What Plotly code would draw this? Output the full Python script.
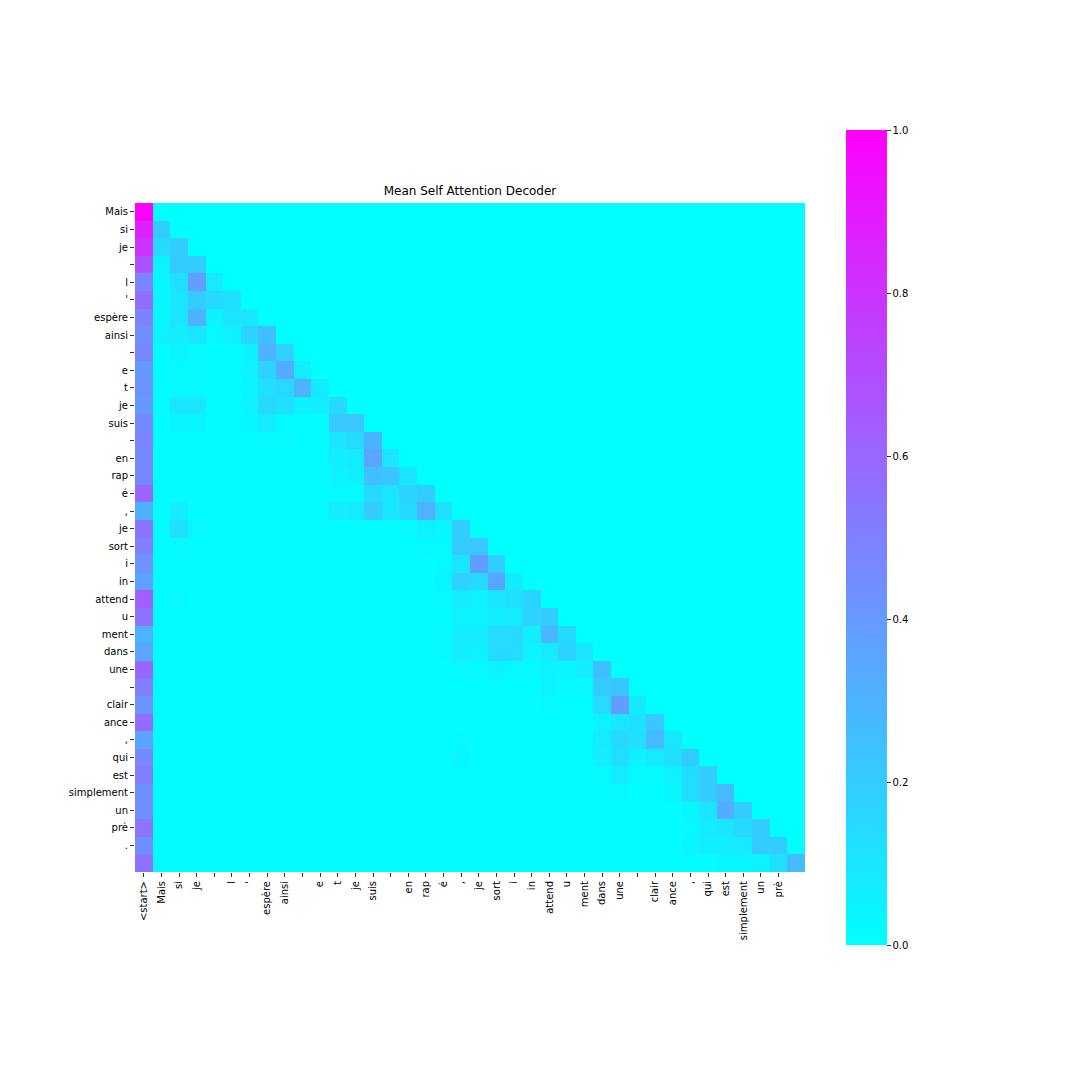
import plotly.graph_objects as go

# Token labels
x_labels = ["<start>", "Mais", "si", "je", "", "l", "'", "espère", "ainsi", "", "e", "t", "je",
            "suis", "", "en", "rap", "é", ",", "je", "sort", "i", "in", "attend", "u", "ment",
            "dans", "une", "", "clair", "ance", ",", "qui", "est", "simplement", "un", "prè"]
y_labels = ["Mais", "si", "je", "", "l", "'", "espère", "ainsi", "", "e", "t", "je",
            "suis", "", "en", "rap", "é", ",", "je", "sort", "i", "in", "attend", "u", "ment",
            "dans", "une", "", "clair", "ance", ",", "qui", "est", "simplement", "un", "prè", "."]

# Lower-triangular mean attention rows (row r has r+1 values; causal mask -> 0 above diagonal)
attn_rows = [
    [1.0],
    [0.87, 0.2],
    [0.8, 0.15, 0.2],
    [0.68, 0.05, 0.2, 0.2],
    [0.48, 0.03, 0.12, 0.38, 0.08],
    [0.57, 0.03, 0.1, 0.2, 0.15, 0.12],
    [0.49, 0.03, 0.1, 0.3, 0.05, 0.1, 0.1],
    [0.45, 0.05, 0.07, 0.1, 0.02, 0.05, 0.17, 0.25],
    [0.47, 0.01, 0.03, 0.02, 0.01, 0.01, 0.05, 0.3, 0.18],
    [0.4, 0.01, 0.02, 0.02, 0.01, 0.01, 0.05, 0.17, 0.33, 0.07],
    [0.42, 0.01, 0.02, 0.02, 0.01, 0.01, 0.04, 0.12, 0.15, 0.3, 0.08],
    [0.4, 0.01, 0.1, 0.1, 0.01, 0.01, 0.05, 0.15, 0.12, 0.05, 0.07, 0.15],
    [0.46, 0.01, 0.03, 0.03, 0.01, 0.01, 0.03, 0.08, 0.01, 0.01, 0.01, 0.22, 0.22],
    [0.48, 0.01, 0.01, 0.01, 0.01, 0.01, 0.01, 0.02, 0.02, 0.01, 0.01, 0.1, 0.15, 0.3],
    [0.46, 0.01, 0.01, 0.01, 0.01, 0.01, 0.01, 0.01, 0.01, 0.01, 0.01, 0.07, 0.08, 0.35, 0.1],
    [0.47, 0.01, 0.01, 0.01, 0.01, 0.01, 0.01, 0.01, 0.01, 0.01, 0.01, 0.05, 0.06, 0.25, 0.23, 0.1],
    [0.6, 0.01, 0.01, 0.01, 0.01, 0.01, 0.01, 0.01, 0.01, 0.01, 0.01, 0.02, 0.02, 0.15, 0.1, 0.17, 0.2],
    [0.3, 0.01, 0.07, 0.01, 0.01, 0.01, 0.01, 0.01, 0.01, 0.01, 0.01, 0.07, 0.08, 0.2, 0.1, 0.15, 0.3, 0.12],
    [0.55, 0.01, 0.12, 0.02, 0.01, 0.01, 0.01, 0.01, 0.01, 0.01, 0.01, 0.01, 0.01, 0.01, 0.01, 0.02, 0.05, 0.03, 0.2],
    [0.5, 0.01, 0.02, 0.01, 0.01, 0.01, 0.01, 0.01, 0.01, 0.01, 0.01, 0.01, 0.01, 0.01, 0.01, 0.01, 0.02, 0.02, 0.2, 0.22],
    [0.42, 0.01, 0.01, 0.01, 0.01, 0.01, 0.01, 0.01, 0.01, 0.01, 0.01, 0.01, 0.01, 0.01, 0.01, 0.01, 0.01, 0.02, 0.1, 0.38, 0.2],
    [0.37, 0.01, 0.01, 0.01, 0.01, 0.01, 0.01, 0.01, 0.01, 0.01, 0.01, 0.01, 0.01, 0.01, 0.01, 0.01, 0.01, 0.03, 0.18, 0.15, 0.35, 0.08],
    [0.63, 0.01, 0.02, 0.01, 0.01, 0.01, 0.01, 0.01, 0.01, 0.01, 0.01, 0.01, 0.01, 0.01, 0.01, 0.01, 0.01, 0.02, 0.07, 0.05, 0.1, 0.12, 0.17],
    [0.55, 0.01, 0.01, 0.01, 0.01, 0.01, 0.01, 0.01, 0.01, 0.01, 0.01, 0.01, 0.01, 0.01, 0.01, 0.01, 0.01, 0.01, 0.05, 0.05, 0.07, 0.08, 0.18, 0.2],
    [0.3, 0.01, 0.01, 0.01, 0.01, 0.01, 0.01, 0.01, 0.01, 0.01, 0.01, 0.01, 0.01, 0.01, 0.01, 0.01, 0.01, 0.02, 0.07, 0.07, 0.15, 0.15, 0.07, 0.28, 0.15],
    [0.35, 0.01, 0.01, 0.01, 0.01, 0.01, 0.01, 0.01, 0.01, 0.01, 0.01, 0.01, 0.01, 0.01, 0.01, 0.01, 0.01, 0.02, 0.07, 0.05, 0.15, 0.15, 0.05, 0.08, 0.17, 0.1],
    [0.6, 0.01, 0.01, 0.01, 0.01, 0.01, 0.01, 0.01, 0.01, 0.01, 0.01, 0.01, 0.01, 0.01, 0.01, 0.01, 0.01, 0.01, 0.02, 0.02, 0.05, 0.02, 0.02, 0.05, 0.03, 0.07, 0.25],
    [0.5, 0.01, 0.01, 0.01, 0.01, 0.01, 0.01, 0.01, 0.01, 0.01, 0.01, 0.01, 0.01, 0.01, 0.01, 0.01, 0.01, 0.01, 0.01, 0.01, 0.02, 0.01, 0.01, 0.05, 0.02, 0.02, 0.2, 0.22],
    [0.42, 0.01, 0.01, 0.01, 0.01, 0.01, 0.01, 0.01, 0.01, 0.01, 0.01, 0.01, 0.01, 0.01, 0.01, 0.01, 0.01, 0.01, 0.01, 0.01, 0.01, 0.01, 0.01, 0.02, 0.01, 0.01, 0.15, 0.38, 0.08],
    [0.58, 0.01, 0.01, 0.01, 0.01, 0.01, 0.01, 0.01, 0.01, 0.01, 0.01, 0.01, 0.01, 0.01, 0.01, 0.01, 0.01, 0.01, 0.01, 0.01, 0.01, 0.01, 0.01, 0.01, 0.01, 0.01, 0.05, 0.1, 0.12, 0.22],
    [0.36, 0.01, 0.01, 0.01, 0.01, 0.01, 0.01, 0.01, 0.01, 0.01, 0.01, 0.01, 0.01, 0.01, 0.01, 0.01, 0.01, 0.01, 0.02, 0.01, 0.01, 0.01, 0.01, 0.01, 0.01, 0.01, 0.08, 0.15, 0.12, 0.27, 0.1],
    [0.46, 0.01, 0.01, 0.01, 0.01, 0.01, 0.01, 0.01, 0.01, 0.01, 0.01, 0.01, 0.01, 0.01, 0.01, 0.01, 0.01, 0.01, 0.03, 0.01, 0.01, 0.01, 0.01, 0.01, 0.01, 0.01, 0.07, 0.13, 0.05, 0.08, 0.12, 0.2],
    [0.51, 0.01, 0.01, 0.01, 0.01, 0.01, 0.01, 0.01, 0.01, 0.01, 0.01, 0.01, 0.01, 0.01, 0.01, 0.01, 0.01, 0.01, 0.01, 0.01, 0.01, 0.01, 0.01, 0.01, 0.01, 0.01, 0.02, 0.08, 0.02, 0.02, 0.05, 0.13, 0.2],
    [0.44, 0.01, 0.01, 0.01, 0.01, 0.01, 0.01, 0.01, 0.01, 0.01, 0.01, 0.01, 0.01, 0.01, 0.01, 0.01, 0.01, 0.01, 0.01, 0.01, 0.01, 0.01, 0.01, 0.01, 0.01, 0.01, 0.01, 0.02, 0.01, 0.01, 0.03, 0.13, 0.2, 0.27],
    [0.44, 0.01, 0.01, 0.01, 0.01, 0.01, 0.01, 0.01, 0.01, 0.01, 0.01, 0.01, 0.01, 0.01, 0.01, 0.01, 0.01, 0.01, 0.01, 0.01, 0.01, 0.01, 0.01, 0.01, 0.01, 0.01, 0.01, 0.01, 0.01, 0.01, 0.01, 0.03, 0.1, 0.32, 0.2],
    [0.54, 0.01, 0.01, 0.01, 0.01, 0.01, 0.01, 0.01, 0.01, 0.01, 0.01, 0.01, 0.01, 0.01, 0.01, 0.01, 0.01, 0.01, 0.01, 0.01, 0.01, 0.01, 0.01, 0.01, 0.01, 0.01, 0.01, 0.01, 0.01, 0.01, 0.01, 0.02, 0.08, 0.1, 0.15, 0.2],
    [0.44, 0.01, 0.01, 0.01, 0.01, 0.01, 0.01, 0.01, 0.01, 0.01, 0.01, 0.01, 0.01, 0.01, 0.01, 0.01, 0.01, 0.01, 0.01, 0.01, 0.01, 0.01, 0.01, 0.01, 0.01, 0.01, 0.01, 0.01, 0.01, 0.01, 0.01, 0.03, 0.07, 0.07, 0.08, 0.2, 0.2],
    [0.55, 0.01, 0.01, 0.01, 0.01, 0.01, 0.01, 0.01, 0.01, 0.01, 0.01, 0.01, 0.01, 0.01, 0.01, 0.01, 0.01, 0.01, 0.01, 0.01, 0.01, 0.01, 0.01, 0.01, 0.01, 0.01, 0.01, 0.01, 0.01, 0.01, 0.01, 0.01, 0.01, 0.03, 0.03, 0.05, 0.12, 0.27],
]

n = len(attn_rows)
z = [row + [0.0] * (n - len(row)) for row in attn_rows]

cool = [[0.0, "rgb(0,255,255)"], [1.0, "rgb(255,0,255)"]]

fig = go.Figure(go.Heatmap(
    z=z,
    x=list(range(n)),
    y=list(range(n)),
    zmin=0, zmax=1,
    colorscale=cool,
    xgap=0, ygap=0,
    colorbar=dict(
        lenmode="pixels", len=815,
        thickness=41, thicknessmode="pixels",
        x=1.061, xanchor="left", xref="paper",
        y=0.5, yanchor="middle",
        xpad=0, ypad=0,
        outlinewidth=0,
        tickvals=[0, 0.2, 0.4, 0.6, 0.8, 1.0],
        ticktext=["0.0", "0.2", "0.4", "0.6", "0.8", "1.0"],
        ticks="outside", ticklen=4, tickcolor="#333",
        tickfont=dict(family="DejaVu Sans", size=10, color="black"),
    ),
))

fig.update_xaxes(
    range=[-0.5, n - 0.5],
    tickmode="array",
    tickvals=list(range(len(x_labels))),
    ticktext=x_labels,
    tickangle=-90,
    ticks="outside", ticklen=4, tickcolor="#333",
    showgrid=False, zeroline=False, showline=False,
    tickfont=dict(family="DejaVu Sans", size=10, color="black"),
)
fig.update_yaxes(
    range=[n - 0.5, -0.5],
    tickmode="array",
    tickvals=list(range(len(y_labels))),
    ticktext=y_labels,
    ticks="outside", ticklen=4, tickcolor="#333",
    showgrid=False, zeroline=False, showline=False,
    tickfont=dict(family="DejaVu Sans", size=10, color="black"),
)

fig.update_layout(
    width=1080, height=1080,
    margin=dict(l=127, r=283, t=195, b=216),
    paper_bgcolor="white", plot_bgcolor="white",
    title=dict(
        text="Mean Self Attention Decoder",
        x=0.5, xref="paper", xanchor="center",
        y=1 - 183 / 1080, yref="container", yanchor="middle",
        font=dict(family="DejaVu Sans", size=12, color="black"),
    ),
)

fig.write_html("out.html")
